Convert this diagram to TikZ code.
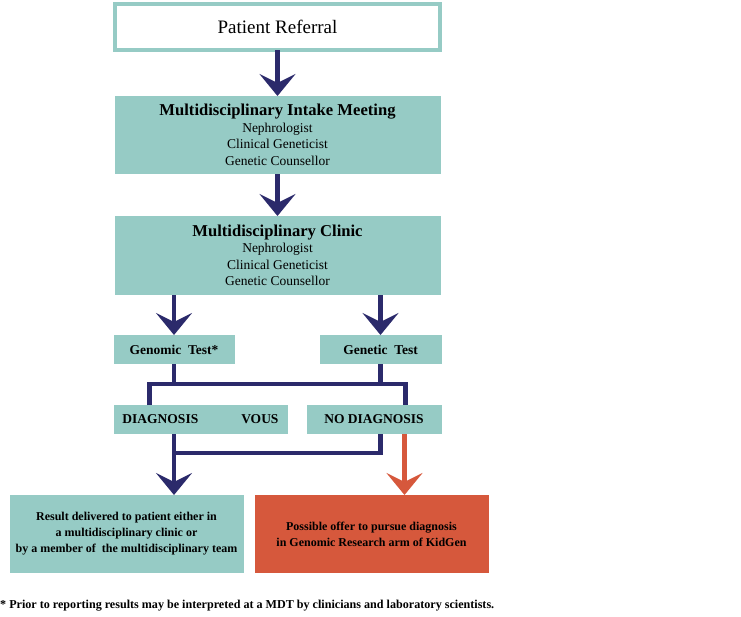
\documentclass[tikz,border=0pt]{standalone}
\usepackage{fontspec}
\setmainfont{Liberation Serif}
\usepackage{xcolor}
\usetikzlibrary{arrows.meta,calc,positioning}
\definecolor{kgteal}{RGB}{150,203,197}
\definecolor{kgnavy}{RGB}{43,42,107}
\definecolor{kgorange}{RGB}{214,88,60}

\begin{document}
\begin{tikzpicture}[x=1pt,y=1pt,>={Stealth[length=22pt,width=36pt,inset=9pt]},
	box/.style={fill=kgteal,inner sep=0pt,outer sep=0pt,align=center,font=\fontsize{13.5}{16.5}\selectfont},
	small/.style={box,minimum height=29pt,font=\bfseries\fontsize{13.5}{16}\selectfont},
	last/.style={box,minimum width=234pt,minimum height=78pt,font=\bfseries\fontsize{12}{16}\selectfont},
	link/.style={draw=kgnavy,line width=4.5pt},
	flow/.style={link,->}]
			\useasboundingbox (0,0) rectangle (741,-616);
			\node[draw=kgteal,line width=4pt,inner sep=0pt,outer sep=0pt,minimum width=325pt,minimum height=46pt,font=\fontsize{19}{20}\selectfont] (referral) at (277.5,-27) {Patient Referral};
			\node[box,minimum width=326pt,minimum height=78pt] (intake) [below=46pt of referral] {{\bfseries\fontsize{16.6}{16}\selectfont Multidisciplinary Intake Meeting}\\Nephrologist\\Clinical Geneticist\\Genetic Counsellor};
			\node[box,minimum width=326pt,minimum height=79pt] (clinic) [below=42pt of intake] {{\bfseries\fontsize{16.6}{16}\selectfont Multidisciplinary Clinic}\\Nephrologist\\Clinical Geneticist\\Genetic Counsellor};
			\node[small,minimum width=121pt] (genomic) [below right=40pt and -1pt of clinic.south west] {Genomic~~Test*};
			\node[small,minimum width=122pt] (genetic) [below left=40pt and -1pt of clinic.south east] {Genetic~~Test};
			\node[small,minimum width=174pt] (diag) [below right=41pt and 0pt of genomic.south west] {DIAGNOSIS\hspace{43pt}VOUS};
			\node[small,minimum width=135pt] (nodiag) [below left=41pt and 0pt of genetic.south east] {NO DIAGNOSIS};
			\node[last] (result) [below right=61pt and -104pt of diag.south west] {Result delivered to patient either in\\a multidisciplinary clinic or\\by a member of~~the multidisciplinary team};
			\node[last,fill=kgorange] (offer) [right=11pt of result] {Possible offer to pursue diagnosis\\in Genomic Research arm of KidGen};
			\node[anchor=west,inner sep=0pt,font=\bfseries\fontsize{12.1}{14}\selectfont] (note) at (0,-606) {* Prior to reporting results may be interpreted at a MDT by clinicians and laboratory scientists.};
			% junction points
			\coordinate (split) at ($(genomic.south)+(0,-20)$);
			\coordinate (diagin) at ($(diag.north west)+(36,0)$);
			\coordinate (nodiagin) at ($(nodiag.north east)+(-36,0)$);
			\coordinate (merge) at ($(diag.south -| genomic)+(0,-19)$);
			\coordinate (research) at ($(nodiag.south east)+(-37,0)$);
			\draw[flow] (referral) -- (intake);
			\draw[flow] (intake) -- (clinic);
			\draw[flow] (clinic.south -| genomic) -- (genomic);
			\draw[flow] (clinic.south -| genetic) -- (genetic);
			\draw[link] (genomic) -- (split);
			\draw[link] (genetic) -- (genetic |- split);
			\draw[link] (diagin) |- (split) -| (nodiagin);
			\draw[link] (nodiag.south -| genetic) |- (merge);
			\draw[flow] (diag.south -| genomic) -- (result.north -| genomic);
			\draw[flow,draw=kgorange] (research) -- (offer.north -| research);
\end{tikzpicture}
\end{document}
